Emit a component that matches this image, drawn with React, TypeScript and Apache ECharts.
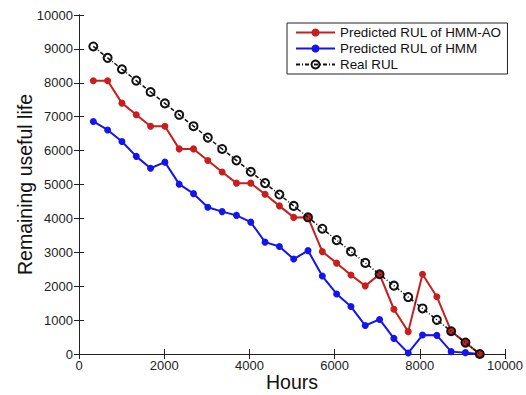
import React, { useEffect, useRef } from "react";
import * as echarts from "echarts";

const hours = [336, 672, 1008, 1344, 1680, 2016, 2352, 2688, 3024, 3360, 3696, 4032, 4368, 4704, 5040, 5376, 5712, 6048, 6384, 6720, 7056, 7392, 7728, 8064, 8400, 8736, 9072, 9408];
const hmmAO = [8060, 8060, 7400, 7060, 6720, 6720, 6050, 6050, 5710, 5370, 5040, 5040, 4710, 4370, 4030, 4032, 3020, 2680, 2330, 2010, 2352, 1320, 660, 2350, 1690, 672, 336, 0];
const hmm = [6860, 6610, 6270, 5830, 5480, 5660, 5010, 4730, 4330, 4200, 4090, 3890, 3300, 3170, 2800, 3050, 2300, 1770, 1400, 840, 1020, 460, 30, 560, 550, 70, 40, 0];
const realRUL = [9072, 8736, 8400, 8064, 7728, 7392, 7056, 6720, 6384, 6048, 5712, 5376, 5040, 4704, 4368, 4032, 3696, 3360, 3024, 2688, 2352, 2016, 1680, 1344, 1008, 672, 336, 0];
const seriesNames = ["Predicted RUL of HMM-AO", "Predicted RUL of HMM", "Real RUL"];

const pair = (ys: number[]) => hours.map((h, i) => [h, ys[i]]);

export default function App() {
  const ref = useRef<HTMLDivElement>(null);
  useEffect(() => {
    if (!ref.current) return;
    const chart = echarts.init(ref.current, null, { renderer: "svg" });
    const font = "Liberation Sans, Arial, sans-serif";
    const axisCommon = {
      axisLine: { show: true, lineStyle: { color: "#222", width: 1 } },
      axisTick: { show: true, inside: true, length: 5, lineStyle: { color: "#222" } },
      splitLine: { show: false },
    };
    const fmt = (v: number) => String(v);
    chart.setOption({
      animation: false,
      backgroundColor: "#fff",
      grid: { left: 79, right: 21, top: 15, bottom: 41, outerBoundsMode: "none", containLabel: false },
      legend: {
        data: seriesNames,
        orient: "vertical",
        left: 287,
        top: 23,
        backgroundColor: "#fff",
        borderColor: "#222",
        borderWidth: 1,
        padding: [3, 6, 3, 8],
        itemGap: 3,
        itemWidth: 39,
        itemHeight: 10,
        textStyle: { fontFamily: font, fontSize: 13.4, color: "#111", lineHeight: 13, padding: [0, 0, 0, 0] },
      },
      xAxis: [
        {
          type: "value",
          min: 0,
          max: 10000,
          interval: 2000,
          name: "Hours",
          nameLocation: "middle",
          nameGap: 18,
          nameMoveOverlap: false,
          nameTextStyle: { fontFamily: font, fontSize: 19.5, color: "#111" },
          axisLabel: { fontFamily: font, fontSize: 13, color: "#222", margin: 5, formatter: fmt },
          ...axisCommon,
        },
        {
          type: "value",
          position: "top",
          min: 0,
          max: 10000,
          interval: 2000,
          axisLabel: { show: false },
          ...axisCommon,
        },
      ],
      yAxis: [
        {
          type: "value",
          min: 0,
          max: 10000,
          interval: 1000,
          name: "Remaining useful life",
          nameLocation: "middle",
          nameGap: 44,
          nameMoveOverlap: false,
          nameTextStyle: { fontFamily: font, fontSize: 19.5, color: "#111" },
          axisLabel: { fontFamily: font, fontSize: 13, color: "#222", margin: 6, formatter: fmt },
          ...axisCommon,
        },
        {
          type: "value",
          position: "right",
          min: 0,
          max: 10000,
          interval: 1000,
          axisLabel: { show: false },
          ...axisCommon,
        },
      ],
      series: [
        {
          name: seriesNames[0],
          type: "line",
          data: pair(hmmAO),
          symbol: "circle",
          symbolSize: 7,
          itemStyle: { color: "#c81e1e" },
          lineStyle: { color: "#c81e1e", width: 2 },
          z: 3,
        },
        {
          name: seriesNames[1],
          type: "line",
          data: pair(hmm),
          symbol: "circle",
          symbolSize: 7,
          itemStyle: { color: "#1414ee" },
          lineStyle: { color: "#1414ee", width: 2 },
          z: 2,
        },
        {
          name: seriesNames[2],
          type: "line",
          data: pair(realRUL),
          symbol: "circle",
          symbolSize: 8,
          itemStyle: { color: "rgba(0,0,0,0)", borderColor: "#111", borderWidth: 2 },
          lineStyle: { color: "#111", width: 1.5, type: [4, 2, 1, 2] },
          z: 4,
        },
      ],
    });
    return () => chart.dispose();
  }, []);
  return <div ref={ref} style={{ position: "fixed", left: 0, top: 0, width: 526, height: 395 }} />;
}
